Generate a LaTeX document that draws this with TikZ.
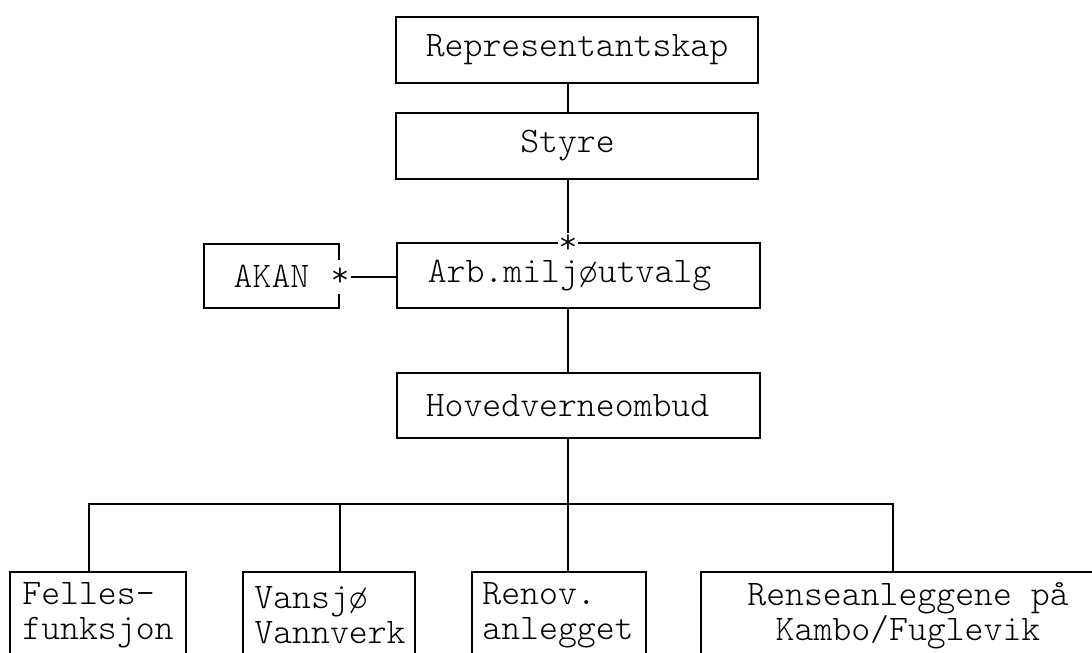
\documentclass[tikz,border=0pt]{standalone}
\begin{document}
\begin{tikzpicture}[x=0.5pt,y=-0.5pt,
  txt/.style={font=\fontfamily{lmtt}\fontseries{l}\fontsize{18}{17.5}\selectfont},
  box/.style={draw,line width=0.9pt,inner sep=0pt,txt},
  conn/.style={line width=0.9pt},
  lbl/.style={inner sep=0pt,txt},
  starnode/.style={fill=white,inner sep=0.5pt,minimum height=17pt,txt}]
\useasboundingbox (0,0) rectangle (1092,653);
\clip (0,0) rectangle (1092,653);
% top boxes
\node[box,minimum width=181pt,minimum height=33pt] (rep) at (577,50) {Representantskap};
\node[box,minimum width=181pt,minimum height=33pt] (styre) at (577,146) {Styre\hspace*{9.5pt}};
\node[box,minimum width=181.5pt,minimum height=32.5pt] (arb) at (578.5,275.5) {Arb.milj\o utvalg\hspace*{9pt}};
\node[box,minimum width=67.5pt,minimum height=32pt] (akan) at (271.5,276) {AKAN};
\node[box,minimum width=181.5pt,minimum height=32.5pt] (hoved) at (578.5,405.5) {Hovedverneombud\hspace*{11pt}};
% bottom boxes (extend below the page)
\node[box,minimum width=88pt,minimum height=64pt] (felles) at (98,636) {};
\node[box,minimum width=86pt,minimum height=64pt] (vansjo) at (329,636) {};
\node[box,minimum width=87pt,minimum height=64pt] (renov) at (559,636) {};
\node[box,minimum width=209.5pt,minimum height=64pt] (rense) at (910.5,636) {};
\node[lbl,align=left,anchor=west] (fellest) at (22,615.5) {Felles-\\funksjon};
\node[lbl,align=left,anchor=west] (vansjot) at (254,615.5) {Vansj\o\\Vannverk};
\node[lbl,align=left,anchor=west] (renovt) at (482,615.5) {Renov.\\anlegget};
\node[lbl,align=center] (renset) at (908,615.5) {Renseanleggene p\aa\\Kambo/Fuglevik};
% stars
\node[starnode,minimum height=6pt] (arbstar) at (568,244) {*};
\node[starnode] (akanstar) at (340,277) {*};
% connectors
\coordinate (spine) at (568,0);
\coordinate (bus) at (568,504);
\coordinate (fd) at (89,0);
\coordinate (vd) at (340,0);
\coordinate (rd) at (893,0);
\draw[conn] (rep.south -| spine) -- (styre.north -| spine);
\draw[conn] (styre.south -| spine) -- (arbstar.north);
\draw[conn] (akanstar.east) -- (arb.west |- akanstar.east);
\draw[conn] (arb.south -| spine) -- (hoved.north -| spine);
\draw[conn] (hoved.south -| spine) -- (renov.north -| spine);
\draw[conn] (felles.north -| fd) -- (fd |- bus) -- (rd |- bus) -- (rense.north -| rd);
\draw[conn] (vansjo.north -| vd) -- (vd |- bus);
\end{tikzpicture}
\end{document}
